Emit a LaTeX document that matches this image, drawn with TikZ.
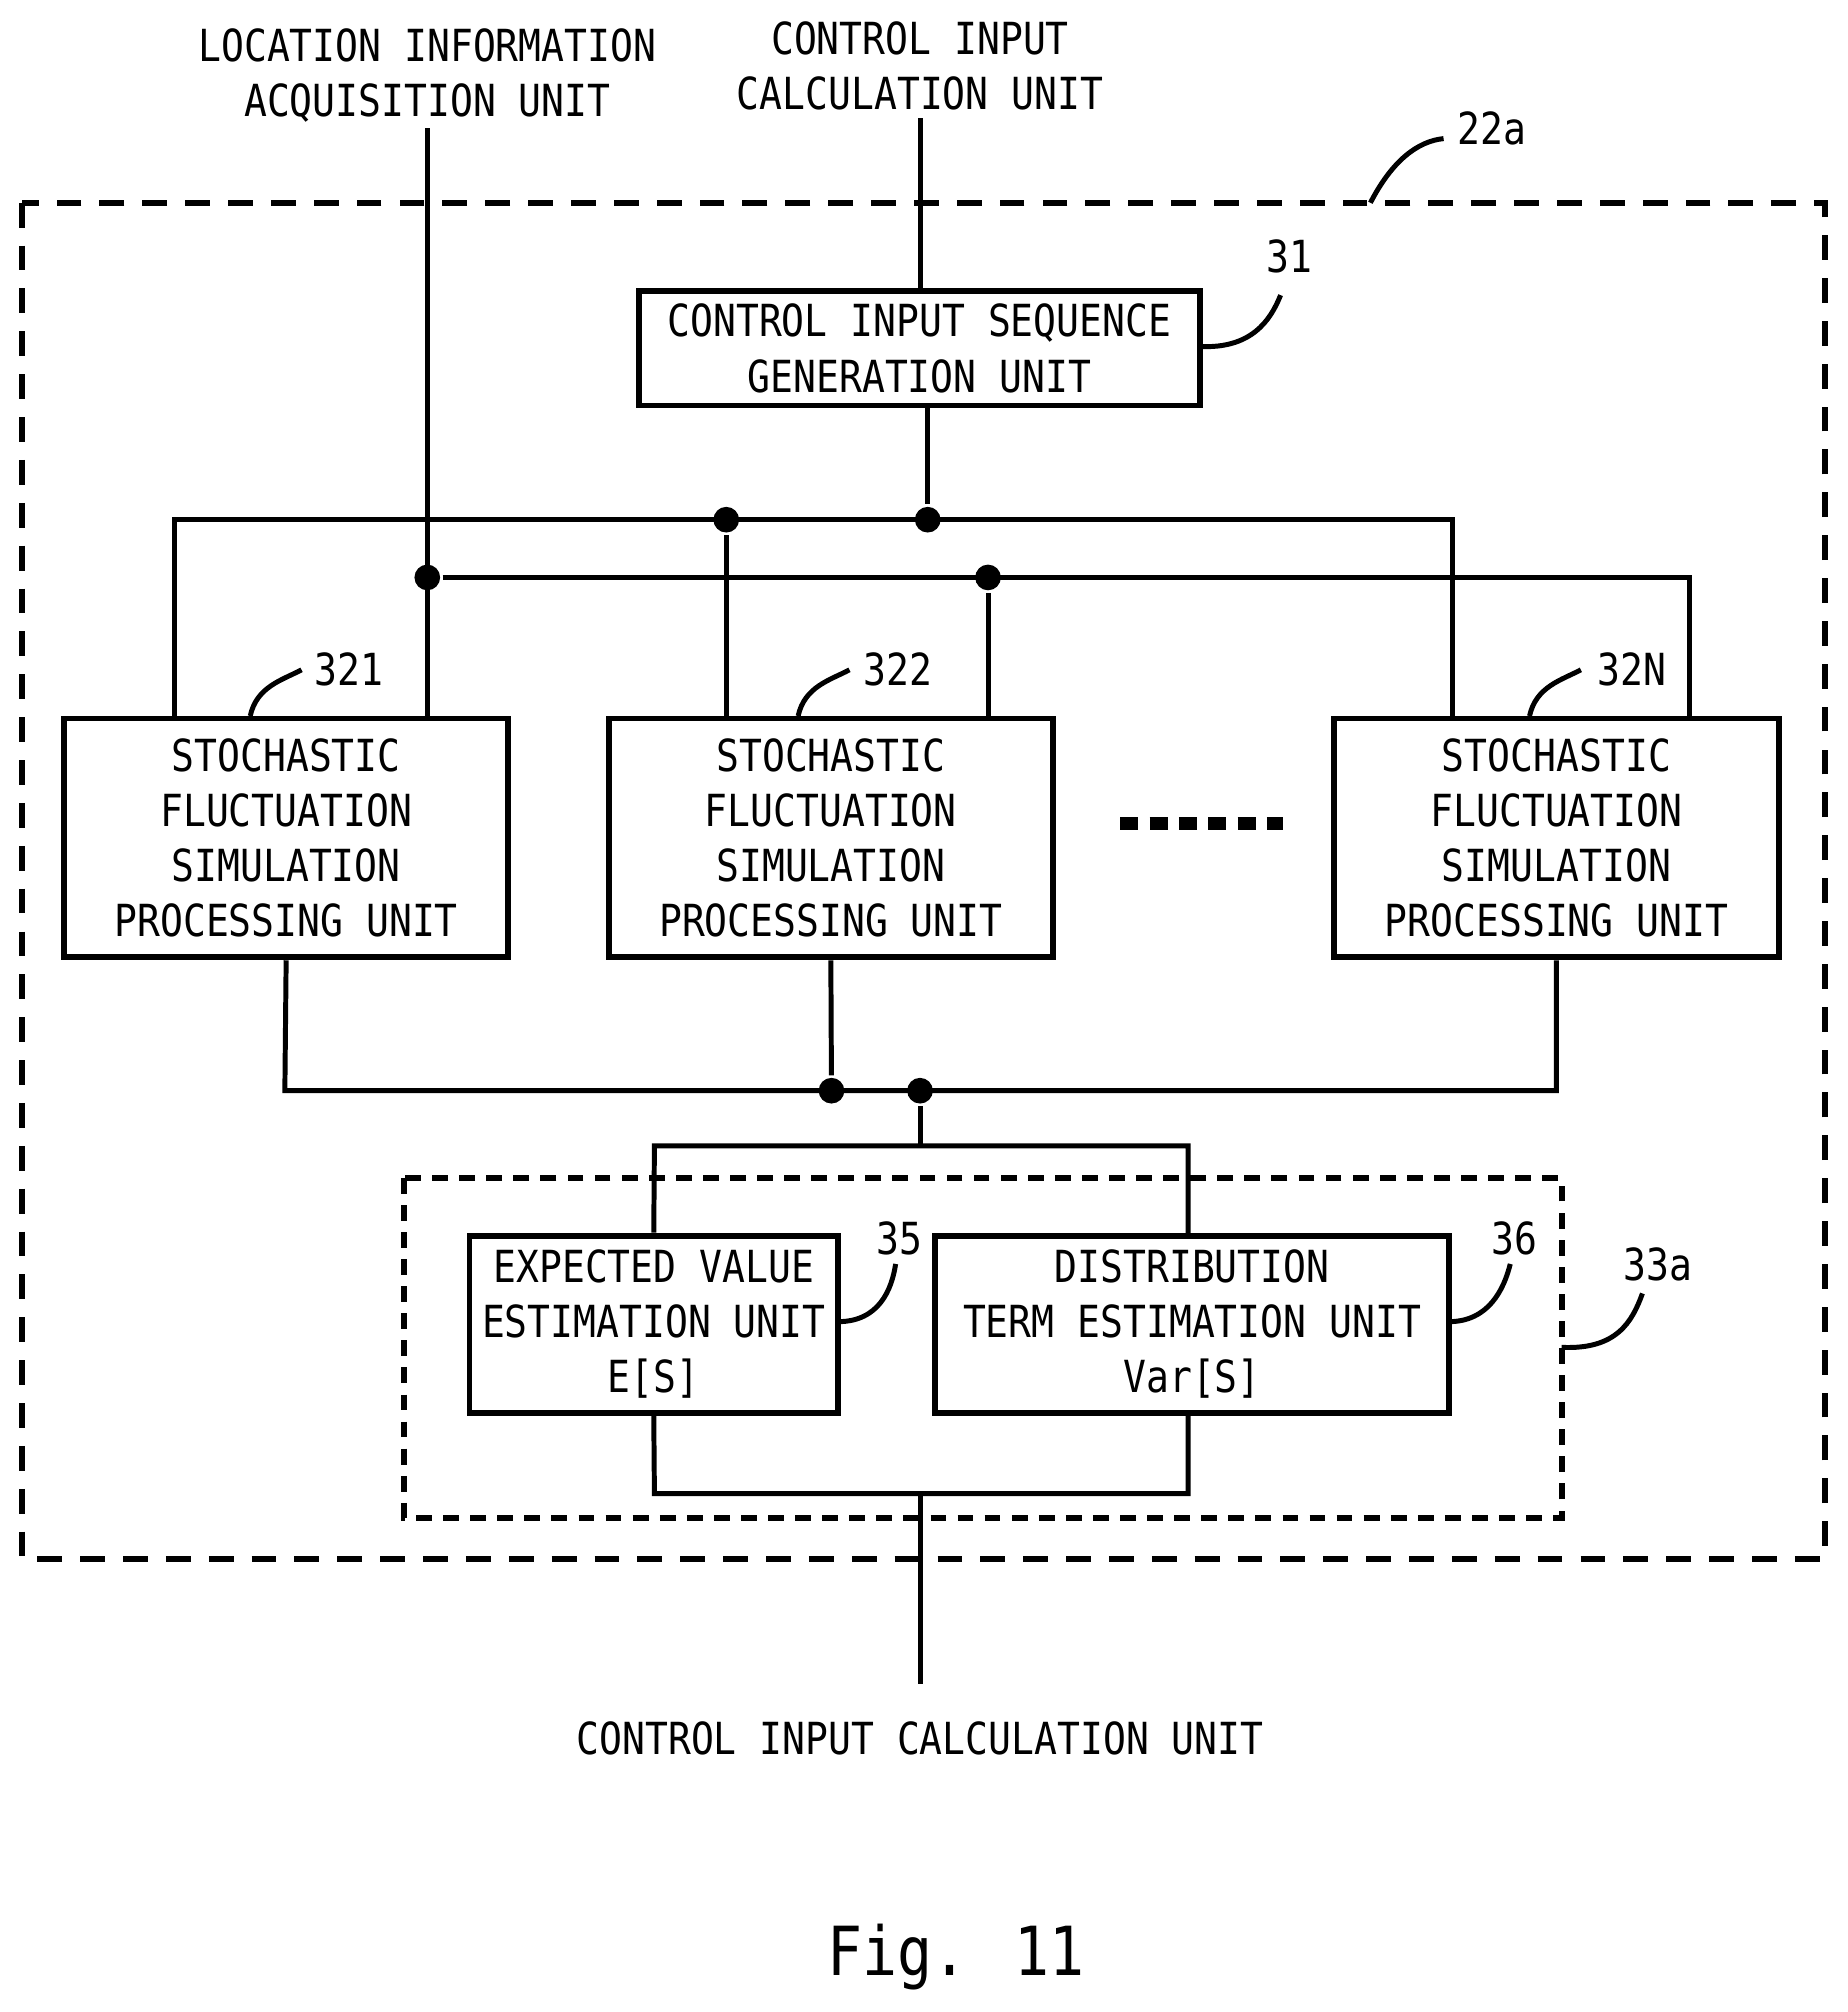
\documentclass[tikz,border=0pt]{standalone}
\usepackage{fontspec}
\setmainfont{DejaVu Sans Mono}[FakeStretch=0.86]
\begin{document}
\begin{tikzpicture}[x=0.01cm,y=-0.01cm,line width=1.1pt,
 box/.style={draw,line width=1.3pt,align=center,inner sep=0pt,font=\fontsize{9.8}{12.2}\selectfont},
 lbl/.style={font=\fontsize{9.8}{12.2}\selectfont,align=center,inner sep=0pt},
 dot/.style={circle,fill,inner sep=0pt,minimum size=0.2cm},
 dsh/.style={dash pattern=on 5.5pt off 4pt,line width=1.3pt}]
\useasboundingbox (0,0) rectangle (1440,1568);
\draw[dsh] (17,158) rectangle (1422,1215);
\draw[dash pattern=on 3.5pt off 2.5pt,line width=1.3pt] (315,918) rectangle (1217,1183);
% top labels
\node[lbl] (loc) at (333,59) {LOCATION INFORMATION\\ACQUISITION UNIT};
\node[lbl] (cic) at (717,51) {CONTROL INPUT\\CALCULATION UNIT};
\coordinate (locb) at (333,100);
\coordinate (cicb) at (717,92);
% boxes
\node[box,minimum width=4.37cm,minimum height=0.89cm] (b31) at (716.5,271.5) {CONTROL INPUT SEQUENCE\\GENERATION UNIT};
\foreach \n/\x in {a/223,b/647.5,c/1213}{
 \node[box,minimum width=3.46cm,minimum height=1.86cm] (s\n) at (\x,653) {STOCHASTIC\\FLUCTUATION\\SIMULATION\\PROCESSING UNIT};}
\node[box,minimum width=2.87cm,minimum height=1.38cm] (b35) at (509.5,1032) {EXPECTED VALUE\\ESTIMATION UNIT\\E[S]};
\node[box,minimum width=4.0cm,minimum height=1.38cm] (b36) at (929,1032) {DISTRIBUTION\\TERM ESTIMATION UNIT\\Var[S]};
% dots
\node[dot] (d1) at (723,405) {};
\node[dot] (d2) at (566,405) {};
\node[dot] (d3) at (333,450) {};
\node[dot] (d4) at (770,450) {};
\node[dot] (d5) at (648,850) {};
\node[dot] (d6) at (717,850) {};
% connectors
\draw (cicb) -- (b31.north -| cicb);
\draw (locb) -- (sa.north -| locb);
\draw (b31.south -| d1) -- (d1);
\draw (136,560) -- (136,405) -- (1132,405) -- (1132,560);
\draw (d2) -- (566,560);
\draw (d3) -- (1317,450) -- (1317,560);
\draw (d4) -- (770,560);
\draw (sa.south) -- (222,850) -- (1213,850) -- (sc.south);
\draw (sb.south) -- (d5);
\draw (d6) -- (717,893);
\draw (b35.north) -- (510,893) -- (926,893) -- (926,963);
\draw (b35.south) -- (510,1164) -- (926,1164) -- (926,1101);
\node[lbl] (cib) at (717,1355) {CONTROL INPUT CALCULATION UNIT};
\draw (717,1164) -- (717,1312);
\draw[line width=2.8pt,dash pattern=on 4pt off 2.5pt] (873,642) -- (1000,642);
% numbers
\node[lbl] (n22) at (1163,100) {22a};
\draw (1068,158) .. controls (1085,125) and (1105,110) .. (1125,108);
\node[lbl] (n31) at (1005,200) {31};
\draw (935,270) .. controls (975,272) and (990,250) .. (998,230);
\node[lbl] (n321) at (272,522) {321};
\node[lbl] (n322) at (700,522) {322};
\node[lbl] (n32N) at (1272,522) {32N};
\draw (195,558) .. controls (200,535) and (220,530) .. (235,522);
\draw (622,558) .. controls (627,535) and (647,530) .. (662,522);
\draw (1192,558) .. controls (1197,535) and (1217,530) .. (1232,522);
\node[lbl] (n35) at (701,965) {35};
\draw (653,1030) .. controls (685,1030) and (695,1005) .. (698,985);
\node[lbl] (n36) at (1180,965) {36};
\draw (1129,1030) .. controls (1160,1030) and (1172,1005) .. (1177,985);
\node[lbl] (n33) at (1292,985) {33a};
\draw (1217,1050) .. controls (1260,1052) and (1272,1030) .. (1280,1008);
\node[font=\fontsize{15}{18}\selectfont,inner sep=0pt] (fig) at (745,1525) {Fig. 11};
\end{tikzpicture}
\end{document}
